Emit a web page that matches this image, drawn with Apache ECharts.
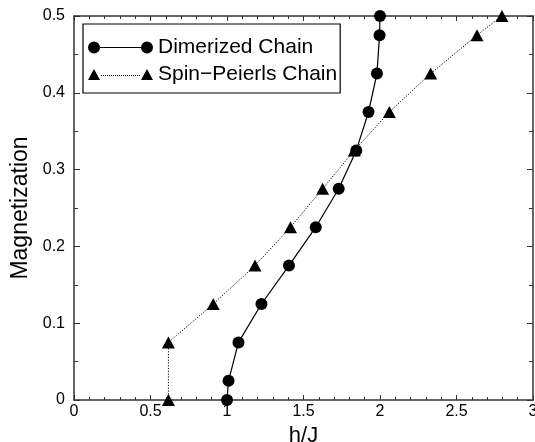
<!DOCTYPE html>
<html>
<head>
<meta charset="utf-8">
<script src="https://cdn.jsdelivr.net/npm/echarts@6/dist/echarts.min.js"></script>
<style>html,body{margin:0;padding:0;background:#fff}#c{width:535px;height:442px}</style>
</head>
<body>
<div id="c"></div>
<script>
// ---- data ----
var dimerizedX = [1.0, 1.01, 1.075, 1.225, 1.405, 1.58, 1.73, 1.845, 1.925, 1.98, 1.997, 2.0];
var dimerizedY = [0, 0.025, 0.075, 0.125, 0.175, 0.225, 0.275, 0.325, 0.375, 0.425, 0.475, 0.5];
var spinPeierlsX = [0.617, 0.617, 0.91, 1.183, 1.415, 1.625, 1.832, 2.061, 2.331, 2.634, 2.797];
var spinPeierlsY = [0, 0.075, 0.125, 0.175, 0.225, 0.275, 0.325, 0.375, 0.425, 0.475, 0.5];
var seriesNames = ['Dimerized Chain', 'Spin\u2212Peierls Chain'];
var xTitle = 'h/J';
var yTitle = 'Magnetization';

function pairs(xs, ys) { return xs.map(function (x, i) { return [x, ys[i]]; }); }

var FONT = 'Liberation Sans, Arial, Helvetica, sans-serif';
var AX = '#333';

// legend icons (decorative)
var circIcon = 'path://M0,6a6,6 0 1,0 12,0a6,6 0 1,0 -12,0Z M12,5.5h41v1h-41Z M53,6a6,6 0 1,0 12,0a6,6 0 1,0 -12,0Z';
var triPath = 'M0,12L6,1L12,12Z M53,12L59,1L65,12Z';
for (var d = 13; d < 52; d += 2) { triPath += ' M' + d + ',7h1v1h-1Z'; }
var triIcon = 'path://' + triPath;

function xAxisCfg(pos, showLabel) {
  return {
    type: 'value', position: pos, min: 0, max: 3, interval: 0.5,
    name: showLabel ? xTitle : '', nameLocation: 'middle', nameGap: 15,
    nameTextStyle: { fontFamily: FONT, fontSize: 22, color: '#000', verticalAlign: 'top' },
    axisLine: { show: true, onZero: false, lineStyle: { color: AX, width: 1.5 } },
    axisTick: { show: true, inside: true, length: 5, lineStyle: { color: AX, width: 1 } },
    minorTick: { show: true, splitNumber: 5, length: 3, lineStyle: { color: AX, width: 1 } },
    axisLabel: { show: showLabel, margin: 4, fontFamily: FONT, fontSize: 16, color: '#000',
      formatter: function (v) { return String(+v.toFixed(2)); } },
    splitLine: { show: false }
  };
}
function yAxisCfg(pos, showLabel) {
  return {
    type: 'value', position: pos, min: 0, max: 0.5, interval: 0.1,
    name: showLabel ? yTitle : '', nameLocation: 'middle', nameGap: 37,
    nameTextStyle: { fontFamily: FONT, fontSize: 23, color: '#000' },
    axisLine: { show: true, onZero: false, lineStyle: { color: AX, width: 1.5 } },
    axisTick: { show: true, inside: true, length: 6, lineStyle: { color: AX, width: 1 } },
    minorTick: { show: true, splitNumber: 2, length: 4, lineStyle: { color: AX, width: 1 } },
    axisLabel: { show: showLabel, margin: 9, fontFamily: FONT, fontSize: 16, color: '#000',
      formatter: function (v) { return String(+v.toFixed(2)); } },
    splitLine: { show: false }
  };
}

var chart = echarts.init(document.getElementById('c'), null, { renderer: 'canvas' });
chart.setOption({
  animation: false,
  backgroundColor: '#fff',
  grid: { left: 74, right: 2, top: 16, bottom: 42, containLabel: false, outerBoundsMode: 'none' },
  xAxis: [xAxisCfg('bottom', true), xAxisCfg('top', false)],
  yAxis: [yAxisCfg('left', true), yAxisCfg('right', false)],
  legend: {
    orient: 'vertical', left: 83, top: 24,
    padding: [13, 3, 8, 5], itemGap: 6,
    itemWidth: 65, itemHeight: 12,
    borderColor: '#000', borderWidth: 1.2,
    textStyle: { fontFamily: FONT, fontSize: 21, color: '#000' },
    selectedMode: false,
    data: [
      { name: seriesNames[0], icon: circIcon },
      { name: seriesNames[1], icon: triIcon }
    ]
  },
  series: [
    {
      name: seriesNames[0], type: 'line', clip: false,
      data: pairs(dimerizedX, dimerizedY),
      symbol: 'circle', symbolSize: 12,
      itemStyle: { color: '#000' },
      lineStyle: { color: '#000', width: 1.2 },
      z: 3
    },
    {
      name: seriesNames[1], type: 'line', clip: false,
      data: pairs(spinPeierlsX, spinPeierlsY),
      symbol: 'triangle', symbolSize: [13, 12],
      itemStyle: { color: '#000' },
      lineStyle: { color: '#000', width: 1, type: [1.2, 1.6] },
      z: 3
    }
  ]
});
</script>
</body>
</html>
